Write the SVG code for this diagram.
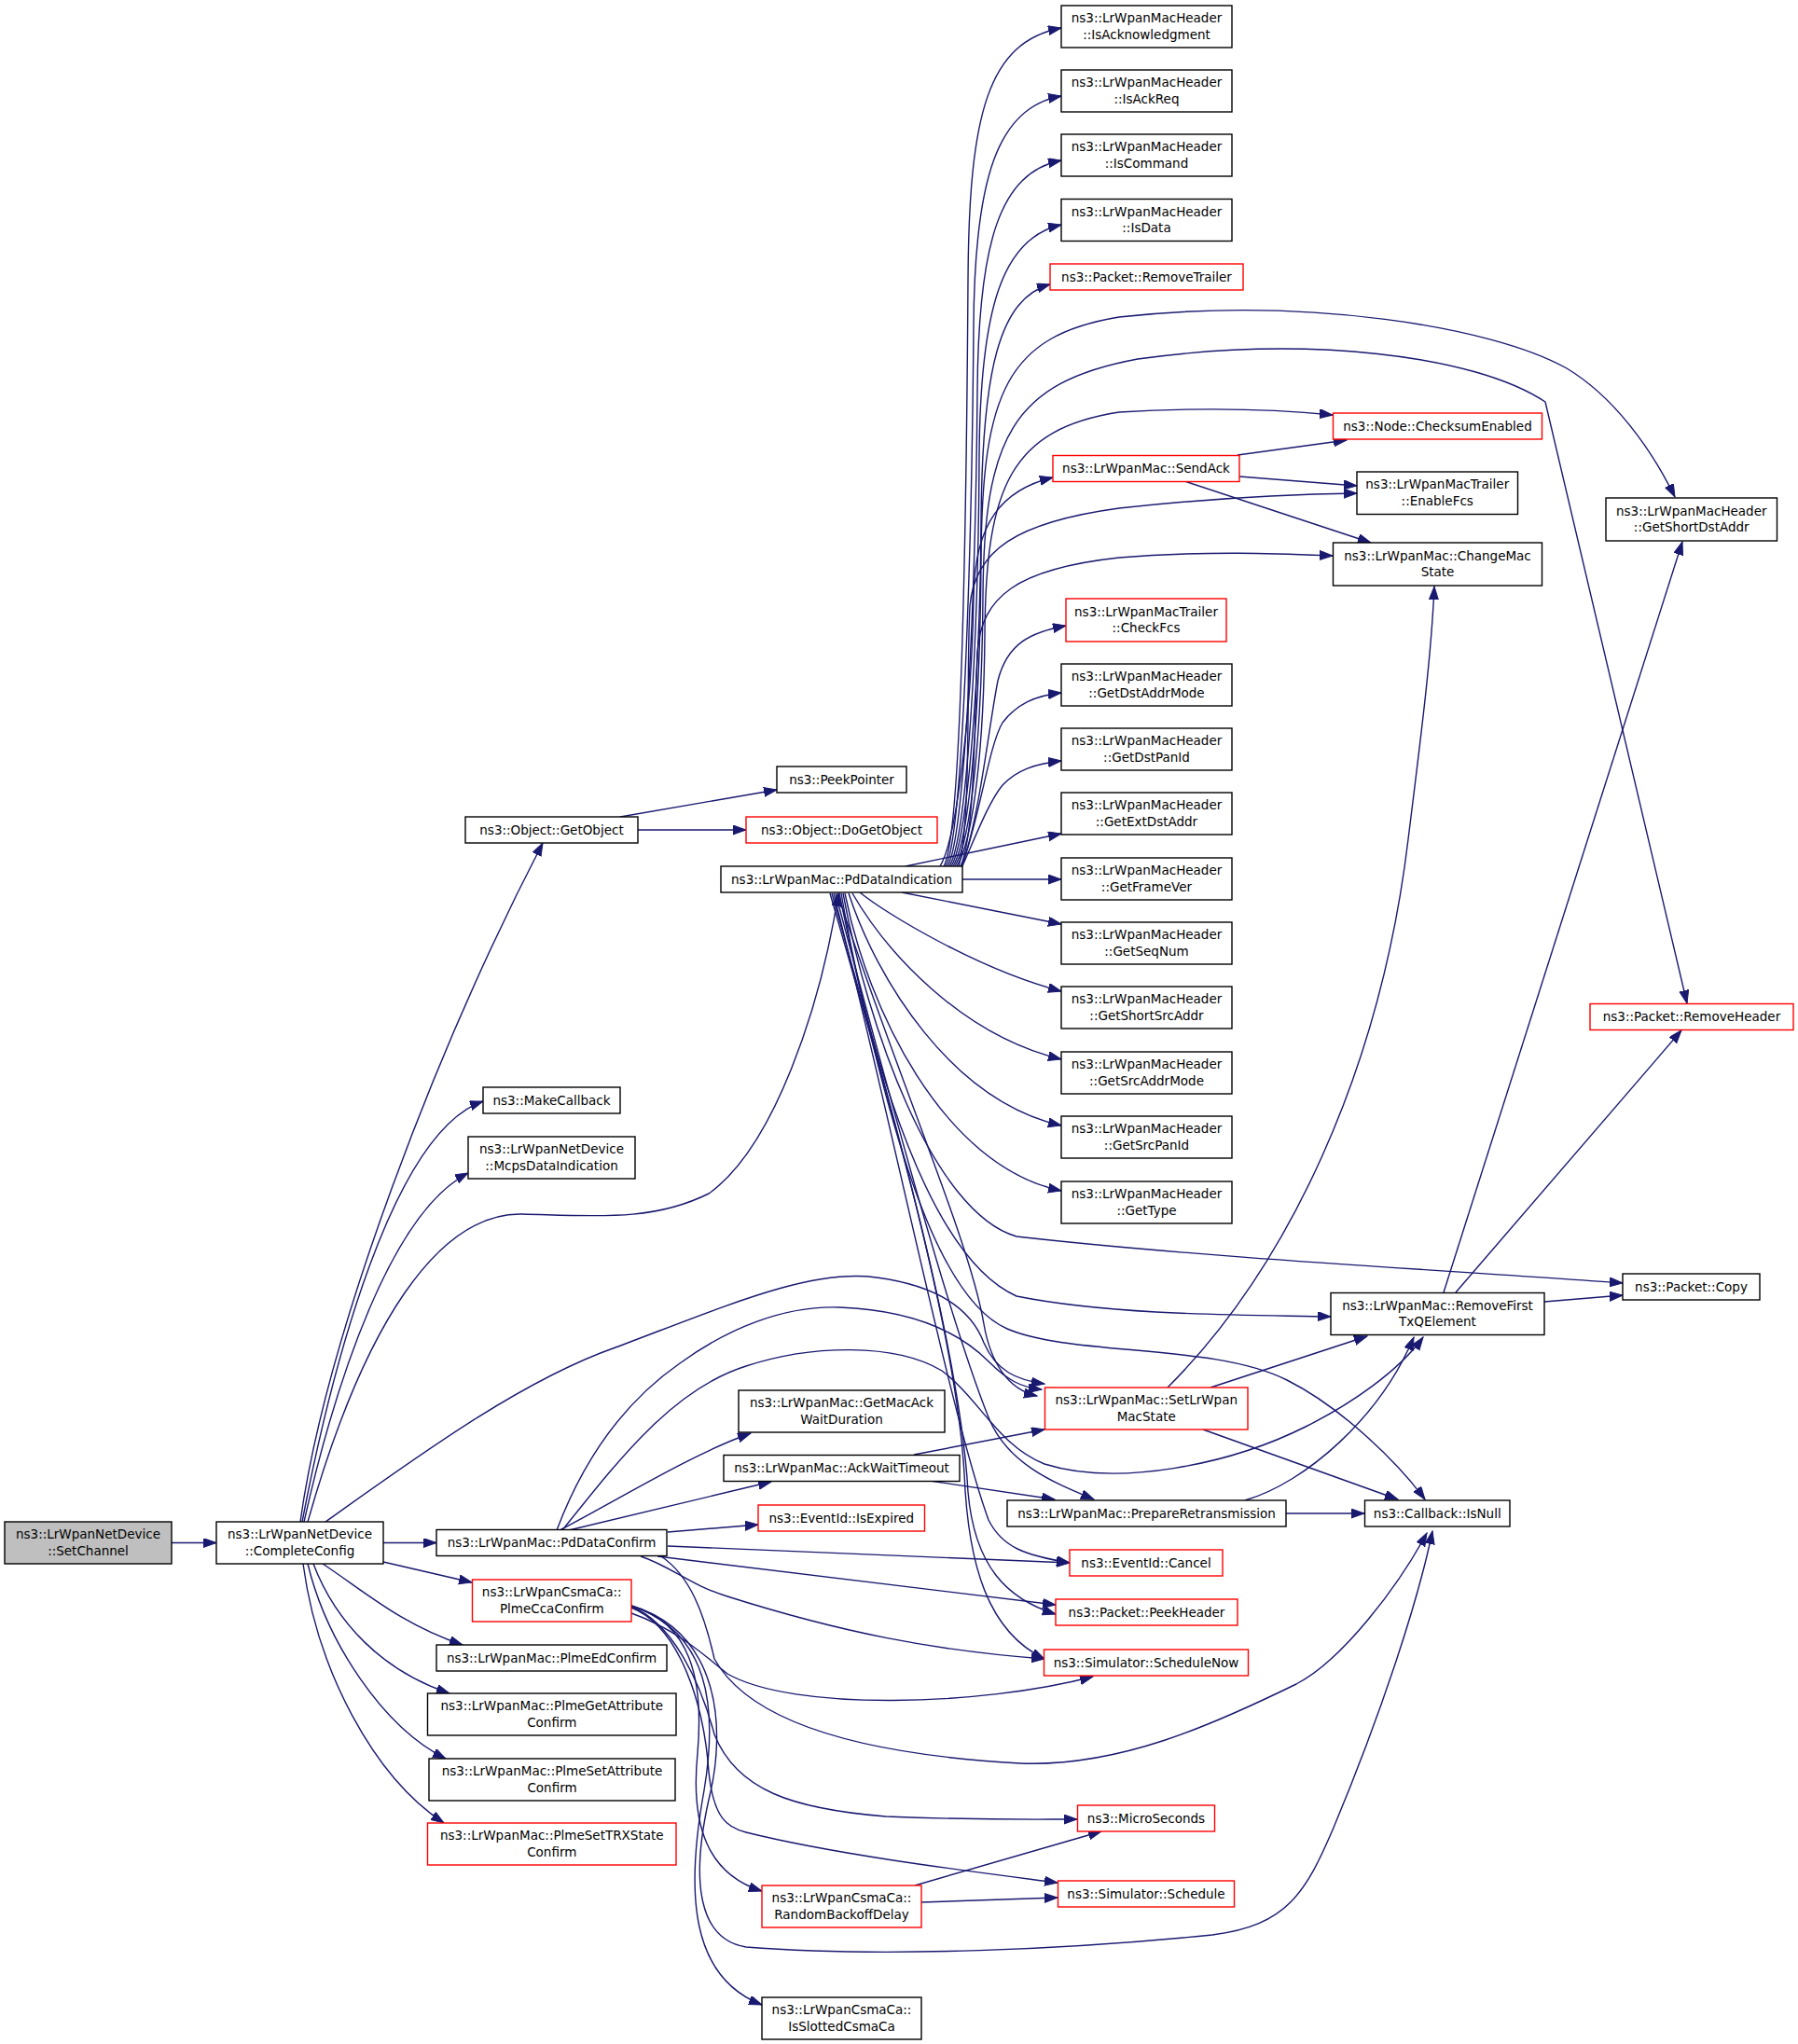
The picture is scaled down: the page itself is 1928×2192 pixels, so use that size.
<svg xmlns="http://www.w3.org/2000/svg" width="1928" height="2192" viewBox="0 0 1928 2192">
<defs>
<marker id="a" markerUnits="userSpaceOnUse" markerWidth="16" markerHeight="12" refX="14" refY="5" orient="auto">
<path d="M0,0 L14,5 L0,10 Z" fill="#191970" stroke="#191970" stroke-width="1"/>
</marker>
<style>
.n rect{fill:#fff;stroke:#000;stroke-width:1.4}
.n.r rect{stroke:#f00}
.n.g rect{fill:#bfbfbf}
text{font-family:"DejaVu Sans","Liberation Sans",sans-serif;font-size:13.5px;text-anchor:middle;fill:#000}
#edges path{fill:none;stroke:#191970;stroke-width:1.4;marker-end:url(#a)}
</style>
</defs>
<rect width="1928" height="2192" fill="#fff"/>
<g id="edges">
<path d="M184,1654.5 L232,1654.5"/>
<path d="M411,1654.5 L468,1654.5"/>
<path d="M411,1675 L506,1697"/>
<path d="M346,1677 C390,1706 430,1742 496,1764"/>
<path d="M336,1677 C360,1740 410,1792 482,1816"/>
<path d="M330,1677 C350,1760 410,1852 478,1886"/>
<path d="M325,1677 C340,1790 400,1905 476,1955"/>
<path d="M322,1632 C350,1430 470,1120 582,904"/>
<path d="M324,1632 C355,1470 420,1215 518,1181"/>
<path d="M326,1632 C360,1480 420,1300 502,1258"/>
<path d="M330,1632 C390,1420 470,1300 560,1302 C640,1304 700,1310 760,1280 C830,1230 880,1080 899,958"/>
<path d="M349,1632 C450,1560 560,1480 660,1445 C780,1400 870,1360 940,1370 C1000,1378 1040,1400 1055,1440 C1068,1470 1090,1480 1120,1484"/>
<path d="M665,876 L833,847"/>
<path d="M684,890 L800,890"/>
<path d="M1012,929 C1030,900 1036,600 1038,300 C1039,120 1060,45 1138,30"/>
<path d="M1014,929 C1032,900 1042,600 1044,350 C1045,190 1070,115 1138,103"/>
<path d="M1016,929 C1034,900 1046,650 1048,420 C1049,260 1072,185 1138,172"/>
<path d="M1018,929 C1036,900 1049,700 1050,490 C1051,330 1075,255 1138,241"/>
<path d="M1020,929 C1038,900 1051,720 1052,560 C1053,395 1072,320 1126,305"/>
<path d="M1022,929 C1040,900 1051,760 1052,600 C1053,420 1080,360 1200,340 C1400,318 1600,350 1680,395 C1730,425 1770,480 1796,533"/>
<path d="M1024,929 C1042,900 1053,780 1054,640 C1055,470 1085,410 1220,385 C1400,360 1580,380 1657,431 L1809,1076"/>
<path d="M1026,929 C1044,900 1055,800 1056,680 C1057,520 1085,460 1200,442 C1300,436 1380,440 1429,445"/>
<path d="M1008,929 C1026,900 1042,760 1044,640 C1045,560 1075,525 1129,512"/>
<path d="M1028,929 C1042,880 1036,720 1040,650 C1045,590 1090,560 1200,545 C1300,534 1390,530 1455,529"/>
<path d="M1030,929 C1046,895 1045,760 1048,700 C1052,640 1090,610 1200,598 C1300,590 1380,594 1429,596"/>
<path d="M1031,929 C1050,880 1060,780 1070,730 C1080,690 1105,678 1143,671"/>
<path d="M1031,930 C1050,880 1060,800 1075,775 C1090,755 1110,746 1138,743"/>
<path d="M1031,931 C1045,900 1060,860 1075,842 C1090,826 1110,819 1138,816"/>
<path d="M971,929 L1138,894"/>
<path d="M1032,943 L1138,943"/>
<path d="M967,957 L1138,991"/>
<path d="M922,957 C950,980 1050,1040 1138,1063"/>
<path d="M914,958 C950,1020 1030,1110 1138,1136"/>
<path d="M910,958 C940,1050 1020,1180 1138,1207"/>
<path d="M906,958 C930,1080 1010,1250 1138,1277"/>
<path d="M904,958 C930,1100 1000,1300 1090,1326 C1300,1350 1600,1365 1740,1376"/>
<path d="M902,958 C935,1150 1000,1350 1090,1390 C1200,1412 1350,1410 1427,1412"/>
<path d="M900,958 C950,1200 1000,1390 1080,1425 C1150,1455 1300,1440 1380,1480 C1440,1510 1500,1570 1528,1608"/>
<path d="M898,958 C960,1150 1040,1330 1055,1420 C1062,1460 1080,1490 1112,1497"/>
<path d="M896,958 C960,1200 1020,1420 1060,1520 C1080,1570 1130,1590 1173,1608"/>
<path d="M894,958 C960,1220 1020,1520 1060,1630 C1075,1660 1100,1668 1147,1676"/>
<path d="M892,958 C960,1200 1030,1450 1038,1600 C1045,1680 1080,1715 1132,1731"/>
<path d="M890,958 C960,1200 1025,1430 1034,1580 C1038,1680 1060,1750 1120,1779"/>
<path d="M1327,488 L1444,472"/>
<path d="M1329,511 L1455,521"/>
<path d="M1270,516 L1470,582"/>
<path d="M1252,1488 C1380,1360 1480,1150 1510,900 C1525,780 1535,700 1538,629"/>
<path d="M1298,1488 L1466,1433"/>
<path d="M1290,1533 L1499,1608"/>
<path d="M1548,1386 L1804,581"/>
<path d="M1561,1386 L1803,1105"/>
<path d="M1656,1396 L1740,1389"/>
<path d="M1335,1609 C1400,1590 1480,1520 1516,1434"/>
<path d="M1379,1623 L1463,1623"/>
<path d="M980,1560 L1120,1533"/>
<path d="M997,1588 L1131,1608"/>
<path d="M600,1641 C660,1610 740,1560 805,1537"/>
<path d="M610,1641 L827,1589"/>
<path d="M716,1643 L813,1635"/>
<path d="M716,1658 L1147,1676"/>
<path d="M705,1669 L1132,1721"/>
<path d="M687,1669 C720,1680 740,1700 780,1712 C900,1750 1000,1770 1120,1779"/>
<path d="M597,1641 C620,1580 660,1510 729,1462 C780,1425 840,1400 900,1402 C980,1405 1030,1430 1060,1460 C1080,1480 1095,1488 1117,1490"/>
<path d="M603,1641 C660,1570 720,1490 800,1465 C870,1442 960,1440 1010,1470 C1050,1500 1070,1550 1120,1570 C1200,1595 1320,1570 1400,1530 C1450,1505 1500,1470 1526,1434"/>
<path d="M709,1669 C740,1690 755,1730 766,1779 C800,1840 900,1880 1094,1891 C1200,1895 1300,1850 1390,1806 C1440,1780 1500,1700 1530,1644"/>
<path d="M677,1730 C720,1745 750,1770 780,1795 C850,1835 1050,1830 1172,1798"/>
<path d="M677,1723 C720,1740 750,1800 766,1860 C790,1920 850,1940 950,1948 C1050,1952 1100,1951 1155,1951"/>
<path d="M677,1724 C730,1745 755,1830 760,1900 C765,1950 780,1960 800,1965 C900,1990 1050,2008 1134,2019"/>
<path d="M677,1722 C740,1740 755,1800 748,1880 C740,1960 760,2010 817,2028"/>
<path d="M677,1722 C760,1750 770,1830 755,1920 C735,2030 740,2120 817,2150"/>
<path d="M677,1722 C770,1750 780,1850 760,1930 C740,2020 750,2080 800,2088 C950,2100 1150,2090 1300,2075 C1380,2065 1400,2030 1430,1960 C1480,1840 1520,1720 1536,1642"/>
<path d="M981,2022 L1181,1964"/>
<path d="M988,2040 L1134,2035"/>
</g>
<g id="n1" class="n g"><rect x="5" y="1632" width="179" height="45"/><text x="94.5" y="1650.2">ns3::LrWpanNetDevice</text><text x="94.5" y="1667.7">::SetChannel</text></g>
<g id="n2" class="n"><rect x="232" y="1632" width="179" height="45"/><text x="321.5" y="1650.2">ns3::LrWpanNetDevice</text><text x="321.5" y="1667.7">::CompleteConfig</text></g>
<g id="n3" class="n"><rect x="499" y="876" width="185" height="28"/><text x="591.5" y="894.8">ns3::Object::GetObject</text></g>
<g id="n4" class="n"><rect x="833" y="822" width="139" height="28"/><text x="902.5" y="840.8">ns3::PeekPointer</text></g>
<g id="n5" class="n r"><rect x="800" y="876" width="205" height="28"/><text x="902.5" y="894.8">ns3::Object::DoGetObject</text></g>
<g id="n6" class="n"><rect x="773" y="929" width="259" height="28"/><text x="902.5" y="947.8">ns3::LrWpanMac::PdDataIndication</text></g>
<g id="n7" class="n"><rect x="518" y="1166" width="147" height="28"/><text x="591.5" y="1184.8">ns3::MakeCallback</text></g>
<g id="n8" class="n"><rect x="502" y="1219" width="179" height="45"/><text x="591.5" y="1237.2">ns3::LrWpanNetDevice</text><text x="591.5" y="1254.7">::McpsDataIndication</text></g>
<g id="n9" class="n"><rect x="1138" y="6" width="183" height="45"/><text x="1229.5" y="24.2">ns3::LrWpanMacHeader</text><text x="1229.5" y="41.7">::IsAcknowledgment</text></g>
<g id="n10" class="n"><rect x="1138" y="75" width="183" height="45"/><text x="1229.5" y="93.2">ns3::LrWpanMacHeader</text><text x="1229.5" y="110.7">::IsAckReq</text></g>
<g id="n11" class="n"><rect x="1138" y="144" width="183" height="45"/><text x="1229.5" y="162.2">ns3::LrWpanMacHeader</text><text x="1229.5" y="179.7">::IsCommand</text></g>
<g id="n12" class="n"><rect x="1138" y="213.5" width="183" height="45"/><text x="1229.5" y="231.7">ns3::LrWpanMacHeader</text><text x="1229.5" y="249.2">::IsData</text></g>
<g id="n13" class="n r"><rect x="1126" y="283" width="207" height="28"/><text x="1229.5" y="301.8">ns3::Packet::RemoveTrailer</text></g>
<g id="n14" class="n r"><rect x="1429.5" y="443" width="224" height="28"/><text x="1541.5" y="461.8">ns3::Node::ChecksumEnabled</text></g>
<g id="n15" class="n r"><rect x="1129" y="488.5" width="200" height="28"/><text x="1229" y="507.3">ns3::LrWpanMac::SendAck</text></g>
<g id="n16" class="n"><rect x="1455" y="506" width="172.5" height="45.5"/><text x="1541.25" y="524.45">ns3::LrWpanMacTrailer</text><text x="1541.25" y="541.95">::EnableFcs</text></g>
<g id="n17" class="n"><rect x="1429.5" y="582" width="224" height="46"/><text x="1541.5" y="600.7">ns3::LrWpanMac::ChangeMac</text><text x="1541.5" y="618.2">State</text></g>
<g id="n18" class="n"><rect x="1722" y="534" width="183.5" height="46"/><text x="1813.75" y="552.7">ns3::LrWpanMacHeader</text><text x="1813.75" y="570.2">::GetShortDstAddr</text></g>
<g id="n19" class="n r"><rect x="1143" y="642" width="172" height="46"/><text x="1229" y="660.7">ns3::LrWpanMacTrailer</text><text x="1229" y="678.2">::CheckFcs</text></g>
<g id="n20" class="n"><rect x="1138" y="712" width="183" height="45"/><text x="1229.5" y="730.2">ns3::LrWpanMacHeader</text><text x="1229.5" y="747.7">::GetDstAddrMode</text></g>
<g id="n21" class="n"><rect x="1138" y="781" width="183" height="45"/><text x="1229.5" y="799.2">ns3::LrWpanMacHeader</text><text x="1229.5" y="816.7">::GetDstPanId</text></g>
<g id="n22" class="n"><rect x="1138" y="850" width="183" height="45"/><text x="1229.5" y="868.2">ns3::LrWpanMacHeader</text><text x="1229.5" y="885.7">::GetExtDstAddr</text></g>
<g id="n23" class="n"><rect x="1138" y="920" width="183" height="45"/><text x="1229.5" y="938.2">ns3::LrWpanMacHeader</text><text x="1229.5" y="955.7">::GetFrameVer</text></g>
<g id="n24" class="n"><rect x="1138" y="989" width="183" height="45"/><text x="1229.5" y="1007.2">ns3::LrWpanMacHeader</text><text x="1229.5" y="1024.7">::GetSeqNum</text></g>
<g id="n25" class="n"><rect x="1138" y="1058" width="183" height="45"/><text x="1229.5" y="1076.2">ns3::LrWpanMacHeader</text><text x="1229.5" y="1093.7">::GetShortSrcAddr</text></g>
<g id="n26" class="n"><rect x="1138" y="1128" width="183" height="45"/><text x="1229.5" y="1146.2">ns3::LrWpanMacHeader</text><text x="1229.5" y="1163.7">::GetSrcAddrMode</text></g>
<g id="n27" class="n"><rect x="1138" y="1197" width="183" height="45"/><text x="1229.5" y="1215.2">ns3::LrWpanMacHeader</text><text x="1229.5" y="1232.7">::GetSrcPanId</text></g>
<g id="n28" class="n"><rect x="1138" y="1267" width="183" height="45"/><text x="1229.5" y="1285.2">ns3::LrWpanMacHeader</text><text x="1229.5" y="1302.7">::GetType</text></g>
<g id="n29" class="n r"><rect x="1705" y="1076.5" width="218" height="28"/><text x="1814" y="1095.3">ns3::Packet::RemoveHeader</text></g>
<g id="n30" class="n"><rect x="1740" y="1366" width="147" height="28"/><text x="1813.5" y="1384.8">ns3::Packet::Copy</text></g>
<g id="n31" class="n"><rect x="1427" y="1386.5" width="229" height="45"/><text x="1541.5" y="1404.7">ns3::LrWpanMac::RemoveFirst</text><text x="1541.5" y="1422.2">TxQElement</text></g>
<g id="n32" class="n r"><rect x="1120.5" y="1488" width="217.5" height="45"/><text x="1229.25" y="1506.2">ns3::LrWpanMac::SetLrWpan</text><text x="1229.25" y="1523.7">MacState</text></g>
<g id="n33" class="n"><rect x="1080" y="1609" width="299" height="28"/><text x="1229.5" y="1627.8">ns3::LrWpanMac::PrepareRetransmission</text></g>
<g id="n34" class="n"><rect x="1463.5" y="1609" width="155.5" height="28"/><text x="1541.25" y="1627.8">ns3::Callback::IsNull</text></g>
<g id="n35" class="n r"><rect x="1147" y="1662" width="164" height="28"/><text x="1229" y="1680.8">ns3::EventId::Cancel</text></g>
<g id="n36" class="n r"><rect x="1132" y="1715" width="195" height="28"/><text x="1229.5" y="1733.8">ns3::Packet::PeekHeader</text></g>
<g id="n37" class="n r"><rect x="1119.5" y="1769" width="219" height="28"/><text x="1229" y="1787.8">ns3::Simulator::ScheduleNow</text></g>
<g id="n38" class="n r"><rect x="1155.5" y="1936" width="147" height="28"/><text x="1229" y="1954.8">ns3::MicroSeconds</text></g>
<g id="n39" class="n r"><rect x="1134.5" y="2017" width="189" height="28"/><text x="1229" y="2035.8">ns3::Simulator::Schedule</text></g>
<g id="n40" class="n"><rect x="792" y="1491" width="221" height="45"/><text x="902.5" y="1509.2">ns3::LrWpanMac::GetMacAck</text><text x="902.5" y="1526.7">WaitDuration</text></g>
<g id="n41" class="n"><rect x="776" y="1560.5" width="253" height="28"/><text x="902.5" y="1579.3">ns3::LrWpanMac::AckWaitTimeout</text></g>
<g id="n42" class="n r"><rect x="813" y="1614" width="178.5" height="28"/><text x="902.25" y="1632.8">ns3::EventId::IsExpired</text></g>
<g id="n43" class="n"><rect x="468" y="1640.5" width="247" height="28"/><text x="591.5" y="1659.3">ns3::LrWpanMac::PdDataConfirm</text></g>
<g id="n44" class="n r"><rect x="506.5" y="1694" width="170.5" height="45"/><text x="591.75" y="1712.2">ns3::LrWpanCsmaCa::</text><text x="591.75" y="1729.7">PlmeCcaConfirm</text></g>
<g id="n45" class="n"><rect x="468" y="1764" width="247" height="28"/><text x="591.5" y="1782.8">ns3::LrWpanMac::PlmeEdConfirm</text></g>
<g id="n46" class="n"><rect x="458.5" y="1816" width="266.5" height="45"/><text x="591.75" y="1834.2">ns3::LrWpanMac::PlmeGetAttribute</text><text x="591.75" y="1851.7">Confirm</text></g>
<g id="n47" class="n"><rect x="460" y="1886" width="264" height="45"/><text x="592" y="1904.2">ns3::LrWpanMac::PlmeSetAttribute</text><text x="592" y="1921.7">Confirm</text></g>
<g id="n48" class="n r"><rect x="458.5" y="1955" width="266.5" height="45"/><text x="591.75" y="1973.2">ns3::LrWpanMac::PlmeSetTRXState</text><text x="591.75" y="1990.7">Confirm</text></g>
<g id="n49" class="n r"><rect x="817" y="2022" width="171" height="45"/><text x="902.5" y="2040.2">ns3::LrWpanCsmaCa::</text><text x="902.5" y="2057.7">RandomBackoffDelay</text></g>
<g id="n50" class="n"><rect x="817" y="2142" width="171" height="45"/><text x="902.5" y="2160.2">ns3::LrWpanCsmaCa::</text><text x="902.5" y="2177.7">IsSlottedCsmaCa</text></g>
</svg>
